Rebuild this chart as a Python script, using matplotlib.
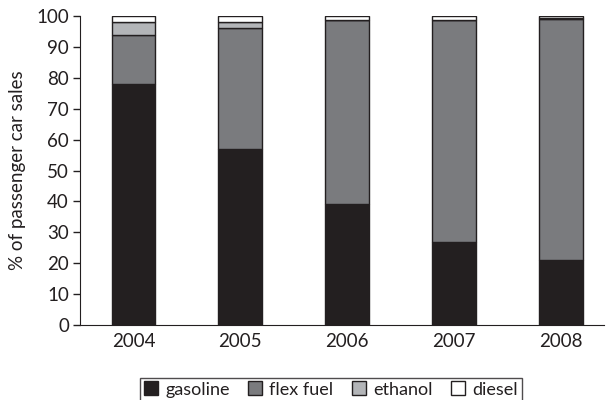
import matplotlib
matplotlib.use("Agg")
import matplotlib.pyplot as plt
import numpy as np

years = ["2004", "2005", "2006", "2007", "2008"]
gasoline = [78, 57, 39, 27, 21]
flex_fuel = [16, 39, 59.7, 71.7, 78]
ethanol = [4, 2, 0, 0, 0.5]
diesel = [2, 2, 1.3, 1.3, 0.5]
series_names = ["gasoline", "flex fuel", "ethanol", "diesel"]
colors = ["#231f20", "#7a7b7e", "#b3b5b8", "#ffffff"]

plt.rcParams['font.family'] = ['Lato', 'DejaVu Sans']

fig = plt.figure(figsize=(6.07, 4.00), dpi=100)
ax = fig.add_axes([80/607, 1-325/400, (604-80)/607, (325-16)/400])

x = np.arange(len(years))
bottom = np.zeros(len(years))
handles = []
for vals, name, c in zip([gasoline, flex_fuel, ethanol, diesel], series_names, colors):
    b = ax.bar(x, vals, width=0.41, bottom=bottom, color=c, edgecolor="#231f20",
               linewidth=1.0, label=name)
    handles.append(b)
    bottom += np.array(vals)

ax.set_xlim(-0.5, 4.4)
ax.set_ylim(0, 100)
ax.set_yticks(range(0, 101, 10))
ax.set_xticks(x)
ax.set_xticklabels(years)
ax.spines['top'].set_visible(False)
ax.spines['right'].set_visible(False)
ax.spines['left'].set_color("#231f20")
ax.spines['bottom'].set_color("#231f20")
ax.tick_params(axis='y', direction='out', length=5, width=1, color="#231f20",
               labelsize=13.5, pad=3, labelcolor="#231f20")
ax.tick_params(axis='x', length=0, labelsize=13.5, pad=6, labelcolor="#231f20")
ax.set_ylabel("% of passenger car sales", fontsize=13.5, color="#231f20", labelpad=7)

leg = fig.legend(handles=handles, labels=series_names, loc='upper center',
                 bbox_to_anchor=(0.545, 0.078), ncol=4, frameon=True, fancybox=False,
                 edgecolor="#231f20", fontsize=13, handlelength=0.8, handleheight=0.8,
                 handletextpad=0.4, columnspacing=1.0, borderpad=0.2)
leg.get_frame().set_linewidth(1.0)
for t in leg.get_texts():
    t.set_color("#231f20")

fig.savefig("out.png", dpi=100)
